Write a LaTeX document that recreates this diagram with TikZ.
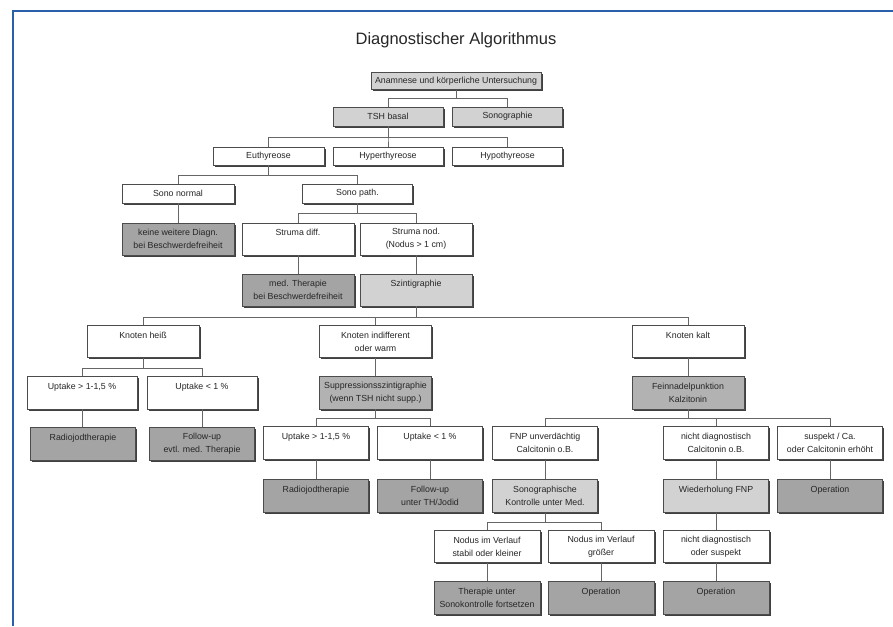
\documentclass[tikz,border=0pt]{standalone}
\usepackage{fontspec}
\setmainfont{Liberation Sans}
\usetikzlibrary{shadows}
\definecolor{frameblue}{HTML}{2A5FAA}
\definecolor{lightgr}{HTML}{D2D2D2}
\definecolor{midgr}{HTML}{B2B2B2}
\definecolor{darkgr}{HTML}{A4A4A4}
\begin{document}
\begin{tikzpicture}[x=1pt,y=-1pt,
  box/.style={draw=black!70, line width=0.6pt, fill=white, align=center, inner sep=1pt,
    font=\fontsize{8.8}{13}\selectfont, text=black!85,
    drop shadow={shadow xshift=1.6pt, shadow yshift=-1.6pt, fill=black!75, opacity=1}},
  lf/.style={fill=lightgr},
  mf/.style={fill=midgr},
  df/.style={fill=darkgr},
  sz/.style 2 args={minimum width=#1pt, minimum height=#2pt},
  con/.style={draw=black!60, line width=0.9pt}]
\useasboundingbox (0,0) rectangle (893,626);
\fill[white] (0,0) rectangle (893,626);
\draw[frameblue, line width=2pt] (13,626) -- (13,11) -- (893,11);

\node[font=\fontsize{16.5}{20}\selectfont, text=black!85] (title) at (456,40) {Diagnostischer Algorithmus};

% rows 1-4
\node[box,lf,sz={170}{17}] (anam) at (456,81) {Anamnese und körperliche Untersuchung};
\node[box,lf,sz={110}{19}] (tsh) at (388,116.5) {TSH basal};
\node[box,lf,sz={110}{19}] (sono) at (507.5,116.5) {Sonographie};
\node[box,sz={111}{18}] (eu) at (268.5,156) {Euthyreose};
\node[box,sz={110}{18}] (hyper) at (388,156) {Hyperthyreose};
\node[box,sz={110}{18}] (hypo) at (507.5,156) {Hypothyreose};
\node[box,sz={112}{19}] (sononorm) at (178,193.5) {Sono normal};
\node[box,sz={110}{19}] (sonopath) at (357.5,193.5) {Sono path.};

% rows 5-6
\node[box,df,sz={112}{32}] (keine) at (178,239) {keine weitere Diagn.\\bei Beschwerdefreiheit};
\node[box,sz={112}{32}] (strdiff) at (298,239) {Struma diff.\\\mbox{}};
\node[box,sz={112}{32}] (strnod) at (416,239) {Struma nod.\\(Nodus > 1 cm)};
\node[box,df,sz={112}{32}] (medth) at (298,290) {med. Therapie\\bei Beschwerdefreiheit};
\node[box,lf,sz={112}{32}] (szint) at (416,290) {Szintigraphie\\\mbox{}};

% row 7-8
\node[box,sz={112}{32}] (heiss) at (143,341.5) {Knoten heiß\\\mbox{}};
\node[box,sz={112}{32}] (indiff) at (375.5,341.5) {Knoten indifferent\\oder warm};
\node[box,sz={112}{32}] (kalt) at (688,341.5) {Knoten kalt\\\mbox{}};
\node[box,sz={110}{33}] (up1) at (82,392.5) {Uptake > 1-1,5 \%\\\mbox{}};
\node[box,sz={110}{33}] (up2) at (202,392.5) {Uptake < 1 \%\\\mbox{}};
\node[box,mf,sz={112}{33}] (supp) at (375.5,392.5) {Suppressionsszintigraphie\\(wenn TSH nicht supp.)};
\node[box,mf,sz={112}{33}] (fein) at (688,392.5) {Feinnadelpunktion\\Kalzitonin};

% row 9
\node[box,df,sz={105}{33}] (radio1) at (83,444) {Radiojodtherapie\\\mbox{}};
\node[box,df,sz={105}{33}] (follow1) at (202,444) {Follow-up\\evtl. med. Therapie};
\node[box,sz={105}{33}] (up3) at (316,443) {Uptake > 1-1,5 \%\\\mbox{}};
\node[box,sz={105}{33}] (up4) at (430,443) {Uptake < 1 \%\\\mbox{}};
\node[box,sz={105}{33}] (fnpu) at (545,443) {FNP unverdächtig\\Calcitonin o.B.};
\node[box,sz={105}{33}] (nd1) at (716,443) {nicht diagnostisch\\Calcitonin o.B.};
\node[box,sz={105}{33}] (susp) at (830,443) {suspekt / Ca.\\oder Calcitonin erhöht};

% row 10
\node[box,df,sz={105}{33}] (radio2) at (316,496) {Radiojodtherapie\\\mbox{}};
\node[box,df,sz={105}{33}] (follow2) at (430,496) {Follow-up\\unter TH/Jodid};
\node[box,lf,sz={105}{33}] (sonok) at (545,496) {Sonographische\\Kontrolle unter Med.};
\node[box,lf,sz={105}{33}] (wdh) at (716,496) {Wiederholung FNP\\\mbox{}};
\node[box,df,sz={105}{33}] (op1) at (830,496) {Operation\\\mbox{}};

% rows 11-12
\node[box,sz={106}{32}] (nstab) at (487,546.5) {Nodus im Verlauf\\stabil oder kleiner};
\node[box,sz={106}{32}] (ngross) at (601,546.5) {Nodus im Verlauf\\größer};
\node[box,sz={106}{32}] (nd2) at (716,546.5) {nicht diagnostisch\\oder suspekt};
\node[box,df,sz={106}{33}] (ther) at (487,598) {Therapie unter\\Sonokontrolle fortsetzen};
\node[box,df,sz={106}{33}] (op2) at (601,598) {Operation\\\mbox{}};
\node[box,df,sz={106}{33}] (op3) at (716,598) {Operation\\\mbox{}};

% bar levels
\coordinate (bA) at (0,98);
\coordinate (bB) at (0,137);
\coordinate (bC) at (0,175);
\coordinate (bD) at (0,213);
\coordinate (bE) at (0,317);
\coordinate (bF) at (0,368);
\coordinate (bG) at (0,418);
\coordinate (bI) at (0,522);

% branching connectors
\foreach \c in {tsh,sono} \draw[con] (anam.south) -- (anam.south |- bA) -| (\c.north);
\foreach \c in {eu,hyper,hypo} \draw[con] (tsh.south) -- (tsh.south |- bB) -| (\c.north);
\foreach \c in {sononorm,sonopath} \draw[con] (eu.south) -- (eu.south |- bC) -| (\c.north);
\foreach \c in {strdiff,strnod} \draw[con] (sonopath.south) -- (sonopath.south |- bD) -| (\c.north);
\foreach \c in {heiss,indiff,kalt} \draw[con] (szint.south) -- (szint.south |- bE) -| (\c.north);
\foreach \c in {up1,up2} \draw[con] (heiss.south) -- (heiss.south |- bF) -| (\c.north);
\foreach \c in {up3,up4} \draw[con] (supp.south) -- (supp.south |- bG) -| (\c.north);
\foreach \c in {fnpu,nd1,susp} \draw[con] (fein.south) -- (fein.south |- bG) -| (\c.north);
\foreach \c in {nstab,ngross} \draw[con] (sonok.south) -- (sonok.south |- bI) -| (\c.north);

% straight connectors
\foreach \p/\c in {sononorm/keine, strdiff/medth, strnod/szint, indiff/supp, kalt/fein,
  up1/radio1, up2/follow1, up3/radio2, up4/follow2, fnpu/sonok, nd1/wdh, susp/op1,
  wdh/nd2, nstab/ther, ngross/op2, nd2/op3}
  \draw[con] (\p.south) -- (\p.south |- \c.north);
\end{tikzpicture}
\end{document}
